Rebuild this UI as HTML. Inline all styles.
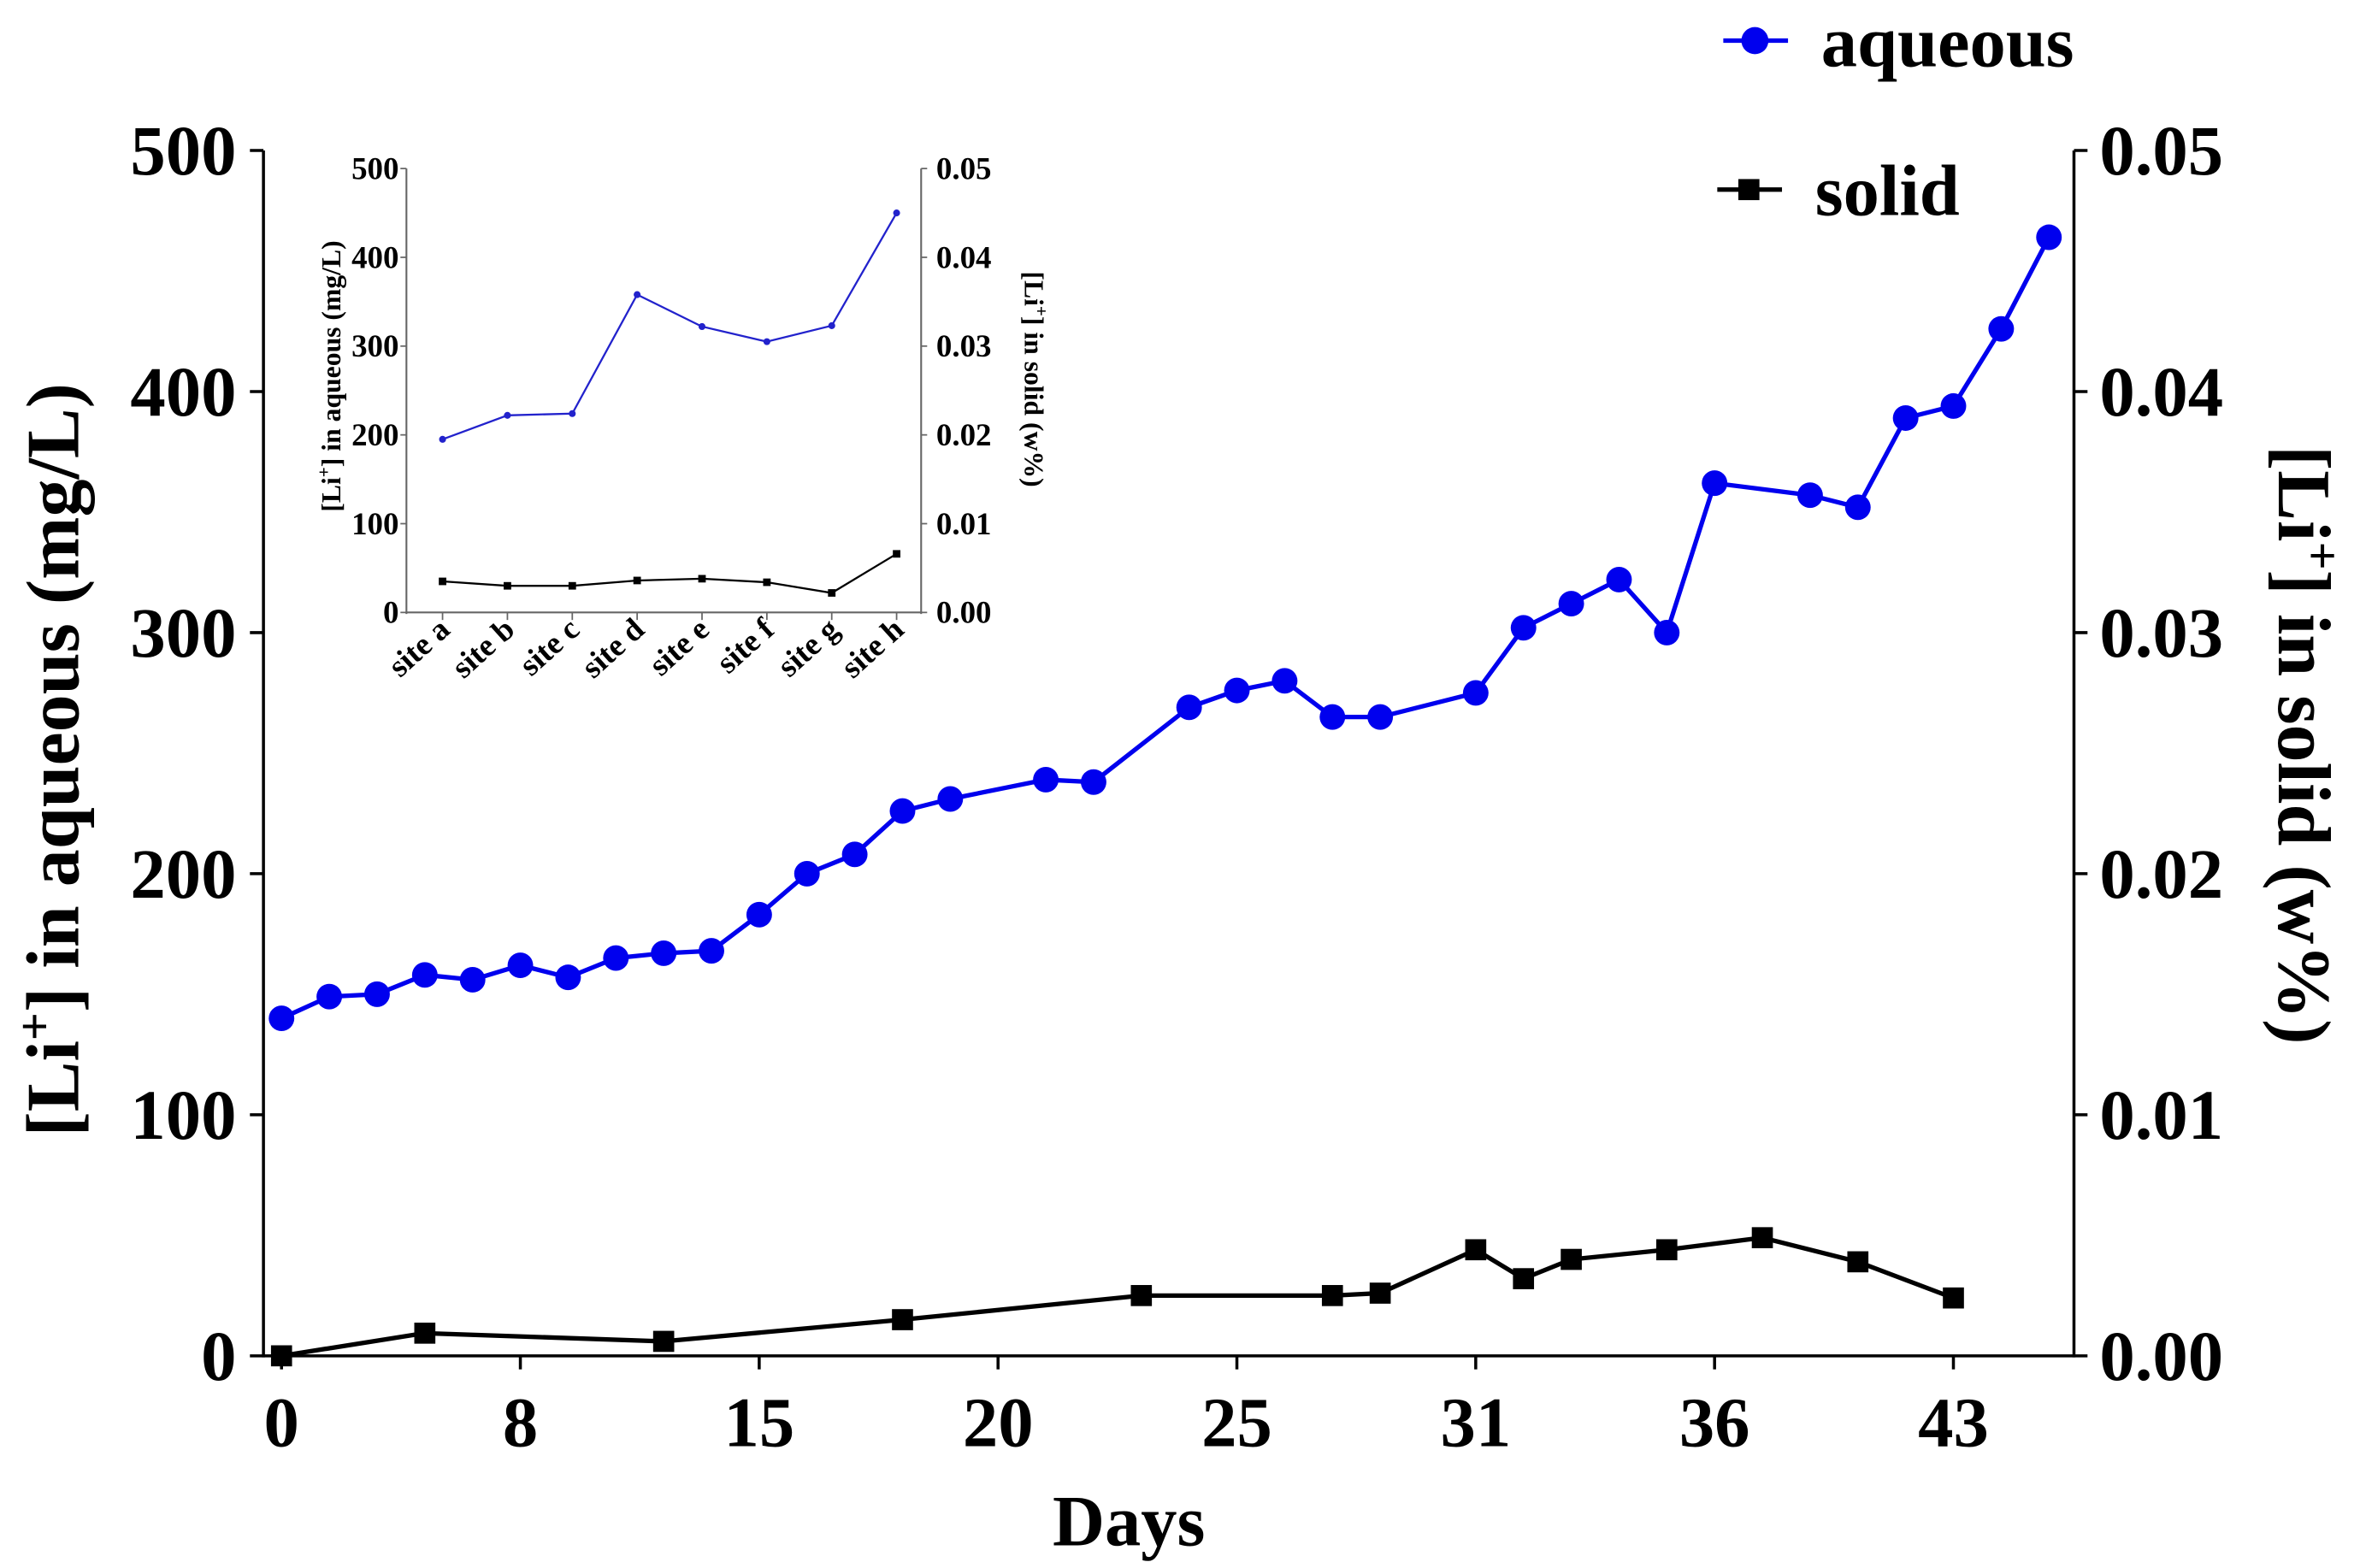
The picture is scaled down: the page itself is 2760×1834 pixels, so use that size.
<!DOCTYPE html>
<html><head><meta charset="utf-8"><style>
html,body{margin:0;padding:0;background:#fff}
svg{display:block}
text{font-family:"Liberation Serif",serif;font-weight:bold;fill:#000}
</style></head><body>
<svg id="chart" width="2760" height="1834" viewBox="0 0 1568 1042" xmlns="http://www.w3.org/2000/svg">
<g id="main"></g>
<g id="inset"></g>
<g id="legend">
  <g>
    <line x1="1145" y1="27" x2="1188" y2="27" stroke="#0000ee" stroke-width="3"/>
    <circle cx="1166" cy="27" r="9" fill="#0000ee"/>
    <text x="1210" y="44" font-size="48">aqueous</text>
  </g>
  <g>
    <line x1="1141" y1="126" x2="1184" y2="126" stroke="#000" stroke-width="3"/>
    <rect x="1155" y="119" width="14" height="14" fill="#000"/>
    <text x="1206" y="143" font-size="48">solid</text>
  </g>
</g>
</svg>
<script>
// main chart data
const dayLabels = ["0","8","15","20","25","31","36","43"];
const aqPos = [0,0.2,0.4,0.6,0.8,1.0,1.2,1.4,1.6,1.8,2.0,2.2,2.4,2.6,2.8,3.2,3.4,3.8,4.0,4.2,4.4,4.6,5.0,5.2,5.4,5.6,5.8,6.0,6.4,6.6,6.8,7.0,7.2,7.4];
const aqValues = [140,149,150,158,156,162,157,165,167,168,183,200,208,226,231,239,238,269,276,280,265,265,275,302,312,322,300,362,357,352,389,394,426,464];
const solPos = [0,0.6,1.6,2.6,3.6,4.4,4.6,5.0,5.2,5.4,5.8,6.2,6.6,7.0];
const solValues = [0,0.00094,0.0006,0.0015,0.0025,0.0025,0.0026,0.0044,0.0032,0.004,0.0044,0.0049,0.0039,0.0024];
const leftTicks = [0,100,200,300,400,500];
const rightTicks = ["0.00","0.01","0.02","0.03","0.04","0.05"];
// inset data
const sites = ["site a","site b","site c","site d","site e","site f","site g","site h"];
const insetAq = [195,222,224,358,322,305,323,450];
const insetSol = [0.0035,0.003,0.003,0.0036,0.0038,0.0034,0.0022,0.0066];
const insetLeftTicks = [0,100,200,300,400,500];
const insetRightTicks = ["0.00","0.01","0.02","0.03","0.04","0.05"];

const NS="http://www.w3.org/2000/svg";
function mk(parent,tag,attrs,txt){const e=document.createElementNS(NS,tag);for(const k in attrs)e.setAttribute(k,attrs[k]);if(txt!==undefined)e.textContent=txt;parent.appendChild(e);return e;}

const M=document.getElementById('main');
const xM=u=>187+u*158.7;
const yL=v=>901-v/500*801;
const yR=v=>901-v/0.05*801;
let e;
e=mk(M,'line',{x1:175,y1:100,x2:175,y2:902,stroke:'#000','stroke-width':2});


e=mk(M,'line',{x1:1378,y1:100,x2:1378,y2:902,stroke:'#000','stroke-width':2});


e=mk(M,'line',{x1:175,y1:901,x2:1378,y2:901,stroke:'#000','stroke-width':2});


leftTicks.forEach(v=>{
  mk(M,'line',{x1:166,y1:yL(v),x2:175,y2:yL(v),stroke:'#000','stroke-width':2});
  e=mk(M,'text',{x:157,y:yL(v)+16,'font-size':47,'text-anchor':'end'},String(v));
  
  
});
rightTicks.forEach((t,i)=>{
  const y=yR(i*0.01);
  mk(M,'line',{x1:1378,y1:y,x2:1387,y2:y,stroke:'#000','stroke-width':2});
  e=mk(M,'text',{x:1395,y:y+16,'font-size':47},t);
  
  
});
dayLabels.forEach((t,i)=>{
  mk(M,'line',{x1:xM(i),y1:901,x2:xM(i),y2:910,stroke:'#000','stroke-width':2});
  e=mk(M,'text',{x:xM(i),y:961,'font-size':47,'text-anchor':'middle'},t);
  
  
});
e=mk(M,'text',{x:750,y:1027,'font-size':48,'text-anchor':'middle'},'Days');


e=mk(M,'text',{x:0,y:0,'font-size':50,'text-anchor':'middle',transform:'translate(52,505) rotate(-90)'});


e.innerHTML='[Li<tspan dy="-18" font-size="33">+</tspan><tspan dy="18">] in aqueous (mg/L)</tspan>';
e=mk(M,'text',{x:0,y:0,'font-size':50,'text-anchor':'middle',transform:'translate(1514,495) rotate(90)'});


e.innerHTML='[Li<tspan dy="-18" font-size="33">+</tspan><tspan dy="18">] in solid (w%)</tspan>';

e=mk(M,'polyline',{points:aqPos.map((u,i)=>xM(u)+','+yL(aqValues[i])).join(' '),fill:'none',stroke:'#0000ee','stroke-width':3});


aqPos.forEach((u,i)=>{
  e=mk(M,'circle',{cx:xM(u),cy:yL(aqValues[i]),r:8.5,fill:'#0000ee'});
  
  
});
e=mk(M,'polyline',{points:solPos.map((u,i)=>xM(u)+','+yR(solValues[i])).join(' '),fill:'none',stroke:'#000','stroke-width':3});


solPos.forEach((u,i)=>{
  e=mk(M,'rect',{x:xM(u)-7,y:yR(solValues[i])-7,width:14,height:14,fill:'#000'});
  
  
});

// inset
const I=document.getElementById('inset');
const xI=i=>294+i*43.1;
const yIL=v=>407-v/500*295;
const yIR=v=>407-v/0.05*295;
e=mk(I,'line',{x1:270,y1:112,x2:270,y2:408,stroke:'#666','stroke-width':1.2});


e=mk(I,'line',{x1:612,y1:112,x2:612,y2:408,stroke:'#666','stroke-width':1.2});


e=mk(I,'line',{x1:270,y1:407,x2:612,y2:407,stroke:'#666','stroke-width':1.2});


insetLeftTicks.forEach(v=>{
  mk(I,'line',{x1:266,y1:yIL(v),x2:270,y2:yIL(v),stroke:'#666','stroke-width':1});
  e=mk(I,'text',{x:265,y:yIL(v)+7,'font-size':21,'text-anchor':'end'},String(v));
  
  
});
insetRightTicks.forEach((t,i)=>{
  const y=yIR(i*0.01);
  mk(I,'line',{x1:612,y1:y,x2:616,y2:y,stroke:'#666','stroke-width':1});
  e=mk(I,'text',{x:622,y:y+7,'font-size':21},t);
  
  
});
sites.forEach((s,i)=>{
  mk(I,'line',{x1:xI(i),y1:407,x2:xI(i),y2:412,stroke:'#666','stroke-width':1});
  e=mk(I,'text',{x:0,y:0,'font-size':21,'text-anchor':'end',transform:'translate('+(xI(i)+6)+',420) rotate(-42)'},s);
  
  
});
e=mk(I,'text',{x:0,y:0,'font-size':18,'text-anchor':'middle',transform:'translate(226,250) rotate(-90)'});


e.innerHTML='[Li<tspan dy="-7" font-size="12">+</tspan><tspan dy="7">] in aqueous (mg/L)</tspan>';
e=mk(I,'text',{x:0,y:0,'font-size':18,'text-anchor':'middle',transform:'translate(681,252) rotate(90)'});


e.innerHTML='[Li<tspan dy="-7" font-size="12">+</tspan><tspan dy="7">] in solid (w%)</tspan>';
e=mk(I,'polyline',{points:sites.map((s,i)=>xI(i)+','+yIL(insetAq[i])).join(' '),fill:'none',stroke:'#2222cc','stroke-width':1.3});


insetAq.forEach((v,i)=>{
  e=mk(I,'circle',{cx:xI(i),cy:yIL(v),r:2.3,fill:'#2222cc'});
  
  
});
e=mk(I,'polyline',{points:sites.map((s,i)=>xI(i)+','+yIR(insetSol[i])).join(' '),fill:'none',stroke:'#000','stroke-width':1.3});


insetSol.forEach((v,i)=>{
  e=mk(I,'rect',{x:xI(i)-2.5,y:yIR(v)-2.5,width:5,height:5,fill:'#000'});
  
  
});
</script>
</body></html>
